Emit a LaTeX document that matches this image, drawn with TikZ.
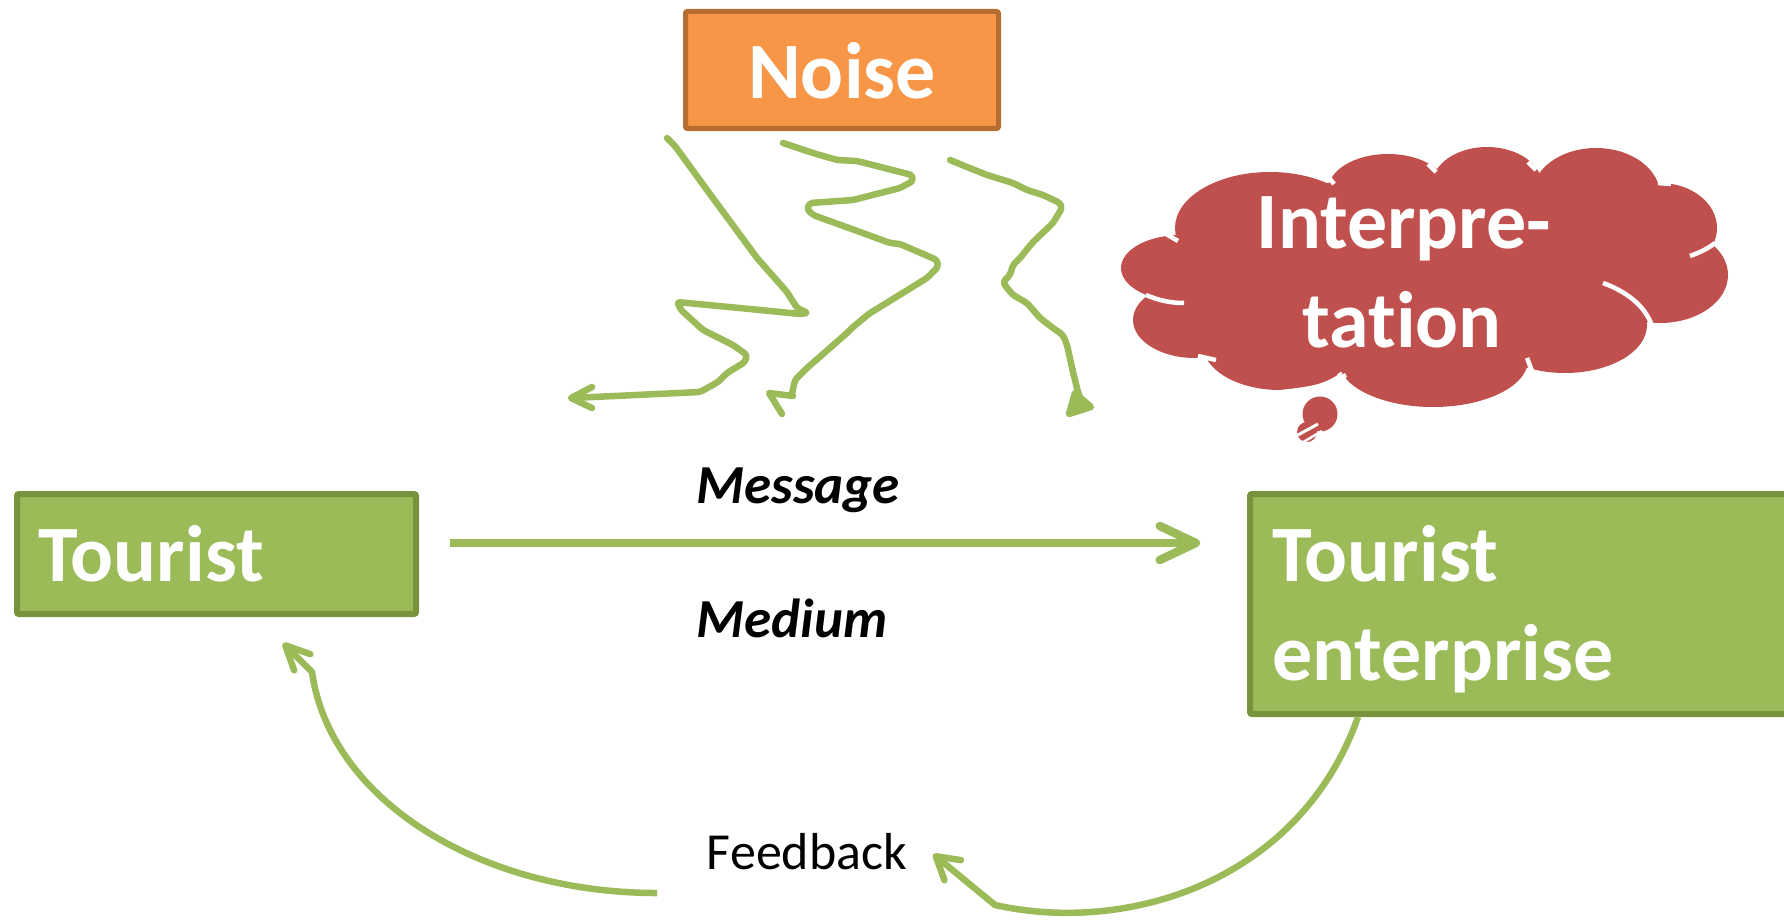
\documentclass[tikz,border=0pt]{standalone}
\usepackage{fontspec}
\setmainfont{Carlito}[Ligatures=NoCommon]
\usetikzlibrary{arrows.meta}
\definecolor{leaf}{HTML}{9BBB59}
\definecolor{leafdark}{HTML}{77933C}
\definecolor{noiseorange}{HTML}{F79646}
\definecolor{noiseedge}{HTML}{B66D31}
\definecolor{cloudred}{HTML}{C0504D}
\begin{document}
\begin{tikzpicture}[x=1pt,y=-1pt,
  greenbox/.style={draw=leafdark, fill=leaf, line width=6pt, inner sep=0pt, rounded corners=2pt},
  noisebox/.style={draw=noiseedge, fill=noiseorange, line width=5pt, inner sep=0pt, rounded corners=2pt},
  bigtext/.style={text=white, inner sep=0pt, font=\fontsize{80}{98}\selectfont\bfseries},
  captext/.style={text=black, inner sep=0pt, font=\fontsize{55}{66}\selectfont\bfseries\itshape},
  fbtext/.style={text=black, inner sep=0pt, font=\fontsize{52}{62}\selectfont},
  squiggle/.style={draw=leaf, line width=6.5pt, line cap=round, line join=round, rounded corners=3pt},
  flowline/.style={draw=leaf, line width=8.5pt},
  fbline/.style={draw=leaf, line width=6.5pt},
  cloudtick/.style={draw=white, line width=4.5pt}
]
\useasboundingbox (0,0) rectangle (1784,923);
\clip (0,0) rectangle (1784,923);

% boxes
\node[greenbox, minimum width=399pt, minimum height=120pt] (tourist) at (216.5,554) {};
\node[bigtext, anchor=base west] (touristtxt) at (38,581) {Tourist};

\node[greenbox, minimum width=547pt, minimum height=220pt] (ent) at (1523.5,604) {};
\node[bigtext, anchor=base west] (enttxtA) at (1272,581) {Tourist};
\node[bigtext, anchor=base west] (enttxtB) at (1272,680) {enterprise};

\node[noisebox, minimum width=313pt, minimum height=117pt] (noise) at (842,70) {};
\node[bigtext, anchor=base] (noisetxt) at (842,99) {Noise};

% labels
\node[captext, anchor=base] (msg) at (798,503) {Message};
\node[captext, anchor=base] (med) at (792,637) {Medium};
\node[fbtext, anchor=base] (fb) at (807,869) {Feedback};

% message channel
\draw[flowline, -{Straight Barb[length=36pt,width=34pt,round]}]
  ([xshift=31pt,yshift=11pt]tourist.east) -- ([xshift=-47pt,yshift=61pt]ent.west);

% feedback loop
\coordinate (fbstart) at ([xshift=-165.5pt]ent.south);
\draw[fbline, -{Straight Barb[length=22pt,width=26pt,round]}]
  (fbstart) .. controls (1300,880) and (1130,935) .. (995,905)
  -- ([xshift=26pt,yshift=-3pt]fb.east);
\coordinate (fbleft) at (657,893);
\draw[fbline, -{Straight Barb[length=24pt,width=23pt,round]}]
  (fbleft) .. controls (480,893) and (330,800) .. (312,672)
  -- ([xshift=66.5pt,yshift=-26pt]tourist.south);

% noise strokes
\draw[squiggle] (667,138) -- (675,146) -- (707,190) -- (757,258) -- (787,292) -- (797,308)
  -- (808,313) -- (800,314) -- (760,310) -- (677,302) -- (681,310) -- (703,330) -- (733,345)
  -- (747,355) -- (745,362) -- (727,373) -- (718,382) -- (700,392) -- (572,398);
\draw[squiggle, rounded corners=0pt] (592,387) -- (571,398) -- (592,408);

\draw[squiggle] (783,143) -- (813,153) -- (837,160) -- (857,161) -- (912,175) -- (913,181)
  -- (900,188) -- (853,200) -- (810,203) -- (807,209) -- (813,215) -- (860,232) -- (890,243)
  -- (900,244) -- (937,260) -- (938,267) -- (927,278) -- (880,307) -- (870,313) -- (853,327)
  -- (847,333) -- (807,368) -- (795,380) -- (792,394);
\draw[squiggle, rounded corners=0pt] (793,396) -- (769,393) -- (782,414);

\draw[squiggle] (950,160) -- (967,167) -- (987,175) -- (1013,183) -- (1027,190) -- (1043,195)
  -- (1060,203) -- (1062,208) -- (1053,223) -- (1033,242) -- (1020,258) -- (1013,265)
  -- (1010,275) -- (1003,282) -- (1007,288) -- (1013,295) -- (1027,303) -- (1040,318)
  -- (1053,328) -- (1063,335) -- (1067,345) -- (1073,372) -- (1078,392) -- (1082,403);
\filldraw[squiggle, fill=leaf, rounded corners=0pt] (1075,393) -- (1069,414) -- (1091,407) -- cycle;

% thought cloud
\begin{scope}[fill=cloudred]
  \fill (1181,268) ellipse [x radius=60, y radius=33];
  \fill (1270,228) ellipse [x radius=95, y radius=56];
  \fill (1388,190) ellipse [x radius=60, y radius=36];
  \fill (1487,185) ellipse [x radius=55, y radius=38];
  \fill (1596,195) ellipse [x radius=64, y radius=47];
  \fill (1660,228) ellipse [x radius=57, y radius=45];
  \fill (1660,275) ellipse [x radius=68, y radius=48];
  \fill (1565,325) ellipse [x radius=82, y radius=48];
  \fill (1433,360) ellipse [x radius=95, y radius=47];
  \fill (1280,345) ellipse [x radius=77, y radius=45];
  \fill (1195,320) ellipse [x radius=62, y radius=38];
  \fill (1420,270) ellipse [x radius=230, y radius=95];
  \fill (1320,414) circle [radius=17.5];
  \fill (1307,432) circle [radius=10];
\end{scope}
% inner outline strokes of the cloud
\draw[cloudtick] (1166,234) -- (1178,241);
\draw[cloudtick] (1146,295) .. controls (1160,301) and (1172,303) .. (1184,303);
\draw[cloudtick] (1198,356) -- (1216,360);
\draw[cloudtick] (1339,373) -- (1347,384);
\draw[cloudtick] (1282,392) .. controls (1300,390) and (1325,388) .. (1346,375);
\draw[cloudtick] (1527,358) -- (1532,371);
\draw[cloudtick] (1603,283) .. controls (1625,291) and (1645,305) .. (1652,326);
\draw[cloudtick] (1690,256) .. controls (1698,253) and (1706,250) .. (1715,243);
\draw[cloudtick] (1658,183) -- (1671,184);
\draw[cloudtick] (1528,162) -- (1536,170);
\draw[cloudtick] (1428,164) -- (1436,172);
\draw[cloudtick] (1326,174) -- (1334,184);
\draw[draw=white, line width=3pt] (1296,436) -- (1318,424);
\draw[draw=white, line width=2.5pt] (1300,444) -- (1322,431);

\node[bigtext, anchor=base] (interpA) at (1404,248) {Interpre-};
\node[bigtext, anchor=base] (interpB) at (1402,347) {tation};
\end{tikzpicture}
\end{document}
